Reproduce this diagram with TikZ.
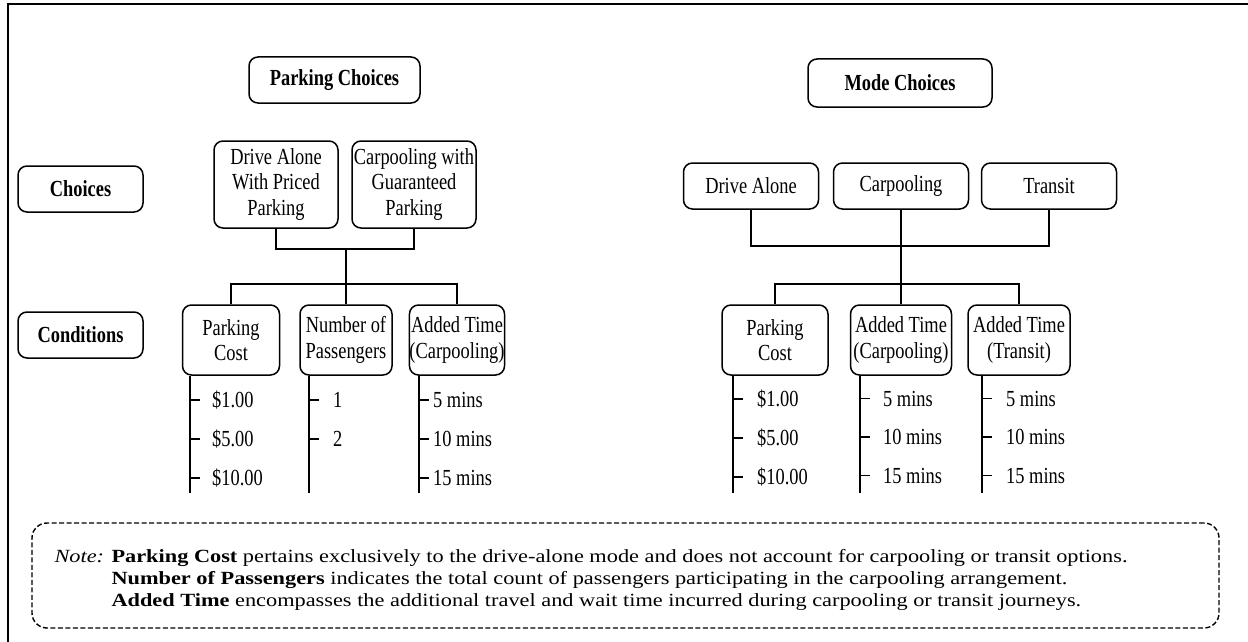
\documentclass[tikz,border=0pt]{standalone}
\usepackage{fontspec}
\setmainfont{Liberation Serif}[FakeStretch=0.8]
\newfontfamily\notefont{Liberation Serif}[FakeStretch=1.2]

\tikzset{
  box/.style={draw, line width=1.5pt, rounded corners=9pt, align=center, inner sep=0pt,
    font=\fontsize{23}{25.5}\selectfont},
  head/.style={box, font=\fontsize{23}{25.5}\selectfont\bfseries},
  link/.style={line width=1.6pt},
  level/.style={anchor=west, inner sep=0pt, font=\fontsize{23}{25.5}\selectfont},
  notebox/.style={draw, line width=1.4pt, rounded corners=15pt, dash pattern=on 5pt off 2.5pt,
    minimum width=1187pt, minimum height=105pt}
}

\begin{document}
\begin{tikzpicture}[x=1pt,y=-1pt]
\useasboundingbox (0,0) rectangle (1248,642);
\draw[line width=2pt] (8,642) -- (8,4) -- (1248,4);

% headings
\node[head, minimum width=171pt, minimum height=46pt] (pc) at (334.5,80) {Parking Choices};
\node[head, minimum width=184pt, minimum height=48pt] (mc) at (900,83) {Mode Choices};
\node[head, minimum width=125pt, minimum height=46pt] (choices) at (80.5,189) {Choices};
\node[head, minimum width=125pt, minimum height=46pt] (conditions) at (80.5,335) {Conditions};

% parking choices
\node[box, minimum width=124pt, minimum height=87pt] (pda) at (276,184.5) {Drive Alone\\With Priced\\Parking};
\node[box, minimum width=124pt, minimum height=87pt] (pcg) at (414,184.5) {Carpooling with\\Guaranteed\\Parking};

% mode choices
\node[box, minimum width=135pt, minimum height=46pt] (mda) at (751,186) {Drive Alone};
\node[box, minimum width=135pt, minimum height=46pt] (mcp) at (901,186) {Carpooling};
\node[box, minimum width=135pt, minimum height=46pt] (mtr) at (1049,186) {Transit};

% conditions
\node[box, minimum width=97pt, minimum height=70pt] (lpc) at (231,340) {Parking\\Cost};
\node[box, minimum width=92pt, minimum height=70pt] (lnp) at (346,340) {Number of\\Passengers};
\node[box, minimum width=93pt, minimum height=70pt] (lat) at (457,340) {Added Time\\(Carpooling)};
\node[box, minimum width=106pt, minimum height=70pt] (rpc) at (775,340) {Parking\\Cost};
\node[box, minimum width=101pt, minimum height=70pt] (rac) at (901,340) {Added Time\\(Carpooling)};
\node[box, minimum width=102pt, minimum height=70pt] (rat) at (1019,340) {Added Time\\(Transit)};

% joins
\coordinate (ltop) at (346,249);
\coordinate (lbot) at (346,284);
\coordinate (rtop) at (901,246);
\coordinate (rbot) at (901,284);
\draw[link] (pda.south) |- (ltop) -| (pcg.south);
\draw[link] (ltop) -- (lbot);
\draw[link] (lpc.north) |- (lbot) -| (lat.north);
\draw[link] (lbot) -- (lnp.north);
\draw[link] (mda.south) |- (rtop) -| (mtr.south);
\draw[link] (mcp.south) -- (rbot);
\draw[link] (rpc.north) |- (rbot) -| (rat.north);
\draw[link] (rbot) -- (rac.north);

% levels
\coordinate (lpcend) at (190,493);
\coordinate (lnpend) at (309,493);
\coordinate (latend) at (419,493);
\coordinate (rpcend) at (733,493);
\coordinate (racend) at (860,493);
\coordinate (ratend) at (982,493);
\foreach \b in {lpc,lnp,lat,rpc,rac,rat}
  \draw[link] (\b end |- \b.south) -- (\b end);

\foreach \t [count=\i] in {\$1.00,\$5.00,\$10.00}
  \node[level] (lpc\i) at (212,361+39*\i) {\t};
\foreach \t [count=\i] in {1,2}
  \node[level] (lnp\i) at (333,361+39*\i) {\t};
\foreach \t [count=\i] in {5 mins,10 mins,15 mins}
  \node[level] (lat\i) at (433,361+39*\i) {\t};
\foreach \t [count=\i] in {\$1.00,\$5.00,\$10.00}
  \node[level] (rpc\i) at (757,360+39*\i) {\t};
\foreach \t [count=\i] in {5 mins,10 mins,15 mins}
  \node[level] (rac\i) at (883,360+38.5*\i) {\t};
\foreach \t [count=\i] in {5 mins,10 mins,15 mins}
  \node[level] (rat\i) at (1006,360+38.5*\i) {\t};

\foreach \b/\n in {lpc/3,lnp/2,lat/3,rpc/3,rac/3,rat/3}
  \foreach \i in {1,...,\n}
    \draw[link] (\b end |- \b\i) -- ++(10,0);

% note
\node[notebox] (note) at (625.5,575.5) {};
\node[anchor=west, inner sep=0pt, font=\notefont\fontsize{18.6}{22}\selectfont] (notetext)
  at ([xshift=23pt,yshift=-5pt]note.west) {%
  \begin{tabular}{@{}l@{ }l@{}}
  \textit{Note:} & \textbf{Parking Cost} pertains exclusively to the drive-alone mode and does not account for carpooling or transit options.\\
  & \textbf{Number of Passengers} indicates the total count of passengers participating in the carpooling arrangement.\\
  & \textbf{Added Time} encompasses the additional travel and wait time incurred during carpooling or transit journeys.
  \end{tabular}};
\end{tikzpicture}
\end{document}
